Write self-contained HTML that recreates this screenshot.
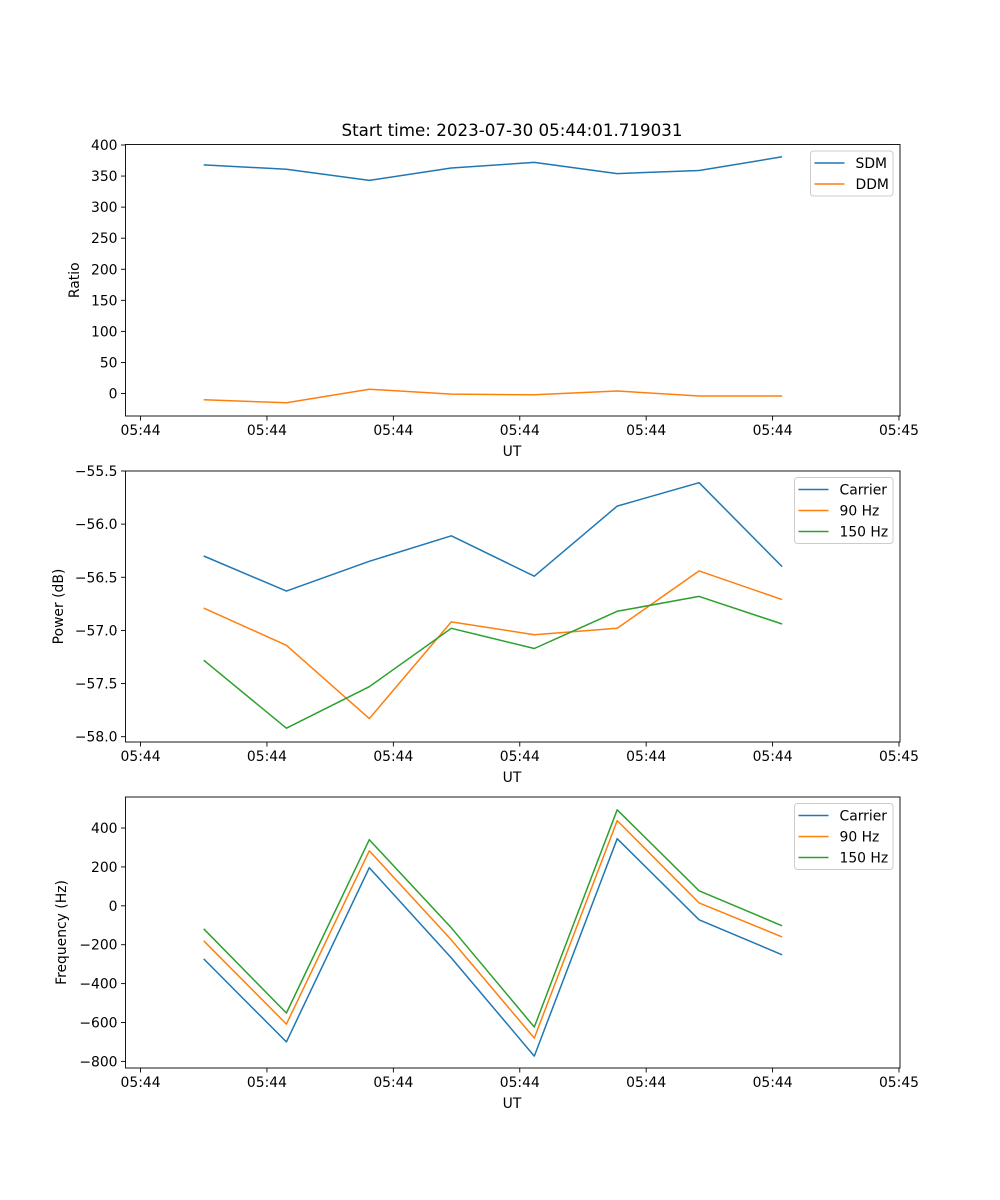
<!DOCTYPE html>
<html><head><meta charset="utf-8"><style>
html,body{margin:0;padding:0;background:#fff;}
svg{display:block;font-family:"DejaVu Sans","Liberation Sans",sans-serif;}
</style></head><body>
<svg id="fig" width="1000" height="1200" viewBox="0 0 1000 1200">
<rect width="1000" height="1200" fill="#fff"/>
<text x="512" y="136" font-size="16.7" text-anchor="middle">Start time: 2023-07-30 05:44:01.719031</text>
</svg>
<script>
// sample times: seconds after 05:44:00
const times = [5.0, 11.54, 18.10, 24.58, 31.15, 37.71, 44.19, 50.75];
const xTickVals = [0, 10, 20, 30, 40, 50, 60];
const xTickLabels = ["05:44","05:44","05:44","05:44","05:44","05:44","05:45"];
const sdm = [368, 361, 343, 363, 372, 354, 359, 381];
const ddm = [-10, -15, 7, -1, -2, 4, -4, -4];
const powCarrier = [-56.30, -56.63, -56.35, -56.11, -56.49, -55.83, -55.61, -56.40];
const pow90 = [-56.79, -57.14, -57.83, -56.92, -57.04, -56.98, -56.44, -56.71];
const pow150 = [-57.28, -57.92, -57.53, -56.98, -57.17, -56.82, -56.68, -56.94];
const freqCarrier = [-273, -700, 196, -268, -773, 345, -72, -252];
const freq90 = [-180, -608, 283, -175, -680, 438, 15, -160];
const freq150 = [-118, -551, 340, -113, -623, 494, 77, -103];
const ratioTicks = [0, 50, 100, 150, 200, 250, 300, 350, 400];
const powTicks = [-58.0, -57.5, -57.0, -56.5, -56.0, -55.5];
const freqTicks = [-800, -600, -400, -200, 0, 200, 400];

const NS = "http://www.w3.org/2000/svg";
const svg = document.getElementById('fig');
const C = {blue:"#1f77b4", orange:"#ff7f0e", green:"#2ca02c"};
const L = 125.5, R = 900;
const xDom = [-1.19, 60.08];
function xs(t){ return L + (t - xDom[0]) / (xDom[1] - xDom[0]) * (R - L); }
function el(tag, attrs, parent){
  const e = document.createElementNS(NS, tag);
  for (const k in attrs) e.setAttribute(k, attrs[k]);
  (parent || svg).appendChild(e);
  return e;
}
function panel(name, top, bottom, yDom, yTicks, fmt, ylabel, ylabelX, series, legend){
  const g = el('g', {});
  
  
  const ys = v => bottom - (v - yDom[0]) / (yDom[1] - yDom[0]) * (bottom - top);
  series.forEach(s => {
    const pts = s.vals.map((v, i) => xs(times[i]).toFixed(1) + ',' + ys(v).toFixed(1)).join(' ');
    const p = el('polyline', {points: pts, fill: 'none', stroke: s.color, 'stroke-width': 1.5, 'stroke-linejoin': 'round'}, g);
    
    
  });
  const frame = el('rect', {x: L, y: top, width: R - L, height: bottom - top, fill: 'none', stroke: '#000', 'stroke-width': 0.9}, g);
  
  
  xTickVals.forEach((t, i) => {
    const x = xs(t);
    el('line', {x1: x, x2: x, y1: bottom, y2: bottom + 4.5, stroke: '#000', 'stroke-width': 0.9}, g);
    const tx = el('text', {x: x, y: bottom + 19, 'font-size': 13.9, 'text-anchor': 'middle'}, g);
    tx.textContent = xTickLabels[i];
    
    
  });
  const xl = el('text', {x: 512, y: bottom + 40, 'font-size': 13.9, 'text-anchor': 'middle'}, g);
  xl.textContent = 'UT';
  
  
  yTicks.forEach(v => {
    const y = ys(v);
    el('line', {x1: L - 4.5, x2: L, y1: y, y2: y, stroke: '#000', 'stroke-width': 0.9}, g);
    const tx = el('text', {x: L - 8, y: y + 5, 'font-size': 13.9, 'text-anchor': 'end'}, g);
    tx.textContent = fmt(v);
    
    
  });
  const cy = (top + bottom) / 2;
  const yl = el('text', {x: ylabelX, y: cy, 'font-size': 13.9, 'text-anchor': 'middle', transform: 'rotate(-90 ' + ylabelX + ' ' + cy + ')'}, g);
  yl.textContent = ylabel;
  
  
  const lg = el('g', {}, g);
  
  
  el('rect', {x: legend.x, y: top + 6.5, width: legend.w, height: 3 + series.length * 21, rx: 3, fill: '#fff', 'fill-opacity': 0.8, stroke: '#ccc', 'stroke-width': 1}, lg);
  series.forEach((s, i) => {
    const ry = top + 18.5 + i * 21;
    el('line', {x1: legend.x + 4, x2: legend.x + 34, y1: ry, y2: ry, stroke: s.color, 'stroke-width': 1.5}, lg);
    const t = el('text', {x: legend.x + 45, y: ry + 5, 'font-size': 13.9}, lg);
    t.textContent = s.label;
    
    
  });
}
panel('ratio', 144.5, 416, [-36.2, 400.8], ratioTicks, v => String(v), 'Ratio', 79,
  [{key:'sdm', label:'SDM', vals: sdm, color: C.blue}, {key:'ddm', label:'DDM', vals: ddm, color: C.orange}],
  {x: 810.5, w: 82.5});
panel('power', 471, 742, [-58.05, -55.5], powTicks, v => (v < 0 ? '\u2212' : '') + Math.abs(v).toFixed(1), 'Power (dB)', 63,
  [{key:'carrier', label:'Carrier', vals: powCarrier, color: C.blue}, {key:'90hz', label:'90 Hz', vals: pow90, color: C.orange}, {key:'150hz', label:'150 Hz', vals: pow150, color: C.green}],
  {x: 794.5, w: 98.5});
panel('frequency', 797, 1068, [-834, 559.6], freqTicks, v => (v < 0 ? '\u2212' : '') + Math.abs(v), 'Frequency (Hz)', 66,
  [{key:'carrier', label:'Carrier', vals: freqCarrier, color: C.blue}, {key:'90hz', label:'90 Hz', vals: freq90, color: C.orange}, {key:'150hz', label:'150 Hz', vals: freq150, color: C.green}],
  {x: 794.5, w: 98.5});
</script>
</body></html>
